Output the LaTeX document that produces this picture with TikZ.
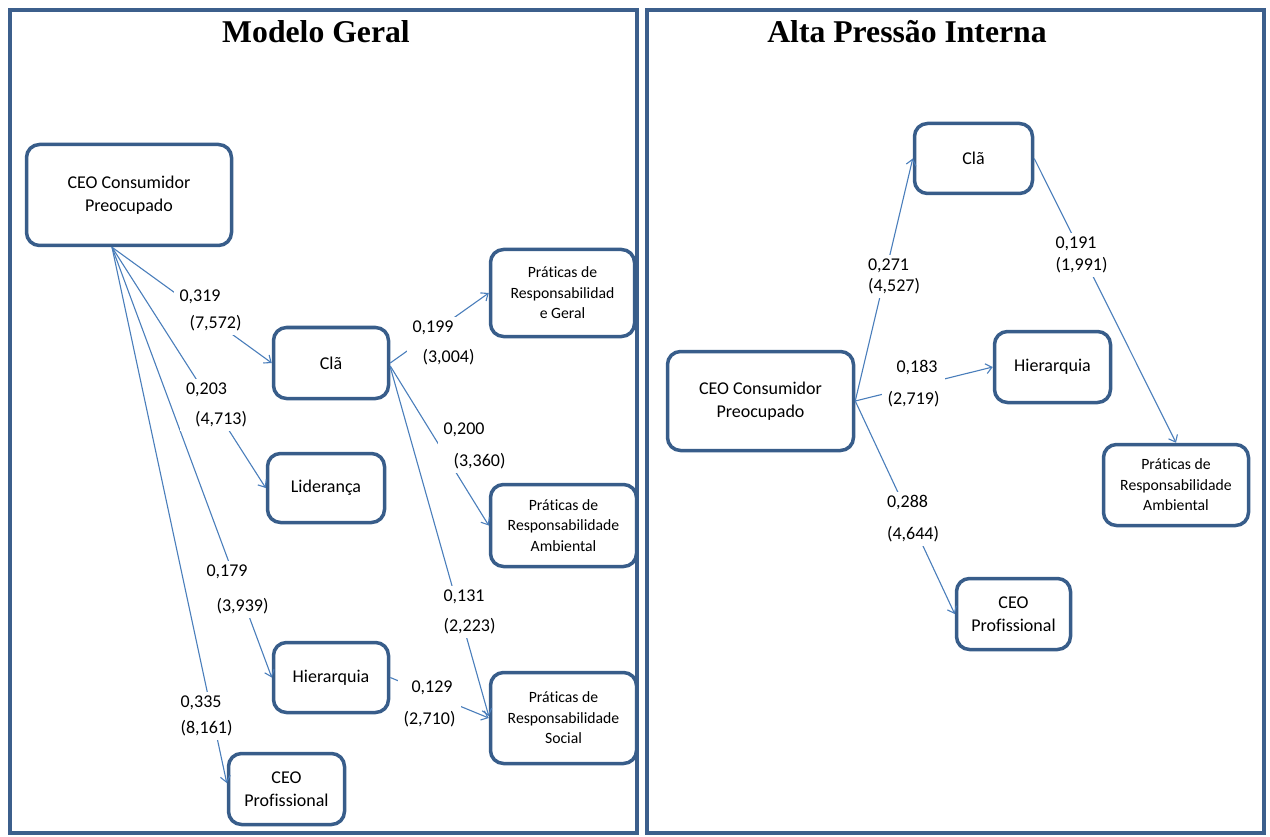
\documentclass[tikz,border=0pt]{standalone}
\usepackage{fontspec}
\setmainfont{Carlito}[Ligatures=NoCommon]
\newfontfamily\titlefont{Liberation Serif}
\usetikzlibrary{arrows.meta}
\definecolor{boxblue}{HTML}{385D8A}
\definecolor{linkblue}{HTML}{4A7EBB}
\definecolor{panelblue}{HTML}{3C5F8C}

\begin{document}
\begin{tikzpicture}[x=1pt,y=-1pt,
  box/.style={draw=boxblue, fill=white, line width=3.5pt, rounded corners=13pt,
    align=center, inner sep=0pt, font=\fontsize{18}{23}\selectfont},
  smallbox/.style={box, font=\fontsize{15.7}{20.5}\selectfont},
  link/.style={draw=linkblue, line width=1.1pt, -{Straight Barb[length=6pt,width=10pt]}},
  coef/.style={fill=white, inner xsep=6pt, inner ysep=4pt, align=left,
    font=\fontsize{18}{#1}\selectfont},
  panel/.style={draw=panelblue, line width=4pt},
  paneltitle/.style={font=\titlefont\bfseries\fontsize{31.7}{36}\selectfont, inner sep=0pt}]

\useasboundingbox (0,0) rectangle (1270,837);

% panel frames
\draw[panel] (10,10) rectangle (637,833);
\draw[panel] (647,10) rectangle (1264,833);

\node[paneltitle] (t1) at (316,32) {Modelo Geral};
\node[paneltitle] (t2) at (907,32) {Alta Pressão Interna};

% ---------- general model ----------
\node[box, minimum width=205pt, minimum height=101pt] (ceoL) at (129,195) {CEO Consumidor\\Preocupado};
\node[box, minimum width=115pt, minimum height=71pt] (claL) at (331,363) {Clã};
\node[box, minimum width=117pt, minimum height=69pt] (lidL) at (326,488) {Liderança};
\node[box, minimum width=115pt, minimum height=70pt] (hieL) at (331,677.5) {Hierarquia};
\node[box, minimum width=116pt, minimum height=71pt] (profL) at (286.5,789) {CEO\\Profissional};
\node[smallbox, minimum width=144pt, minimum height=87pt] (geralL) at (562.5,293) {Práticas de\\Responsabilidad\\e Geral};
\node[smallbox, minimum width=146pt, minimum height=82pt] (ambL) at (563.5,525.5) {Práticas de\\Responsabilidade\\Ambiental};
\node[smallbox, minimum width=146pt, minimum height=91pt] (socL) at (563.5,718) {Práticas de\\Responsabilidade\\Social};

\coordinate (ceoLo) at ([xshift=-17pt]ceoL.south);

% ---------- high internal pressure ----------
\node[box, minimum width=118pt, minimum height=70pt] (claR) at (973.5,158.5) {Clã};
\node[box, minimum width=186pt, minimum height=99pt] (ceoR) at (760.5,401) {CEO Consumidor\\Preocupado};
\node[box, minimum width=116pt, minimum height=71pt] (hieR) at (1052.5,367) {Hierarquia};
\node[smallbox, minimum width=145pt, minimum height=81pt] (ambR) at (1176,485) {Práticas de\\Responsabilidade\\Ambiental};
\node[box, minimum width=114pt, minimum height=71pt] (profR) at (1013.5,614) {CEO\\Profissional};

% connectors (drawn before the coefficient labels, which mask them)
\draw[link] (ceoLo) -- (claL.west);
\draw[link] (ceoLo) -- (lidL.west);
\draw[link] (ceoLo) -- (hieL.west);
\draw[link] (ceoLo) -- ([yshift=6pt]profL.west);
\draw[link] (claL.east) -- (geralL.west);
\draw[link] ([yshift=-3pt]claL.east) -- (ambL.west);
\draw[link] ([yshift=-4pt]claL.east) -- ([yshift=2pt]socL.west);
\draw[link] (hieL.east) -- (socL.west);

\draw[link] (ceoR.east) -- (claR.west);
\draw[link] (ceoR.east) -- (hieR.west);
\draw[link] (ceoR.east) -- (profR.west);
\draw[link] (claR.east) -- (ambR.north);

% path coefficients (t values in brackets)
\node[coef=27] (c1) at (210.5,310.5) {0,319\\\hspace*{10pt}(7,572)};
\node[coef=30] (c2) at (216.5,405) {0,203\\\hspace*{9pt}(4,713)};
\node[coef=35] (c3) at (237.5,589.5) {0,179\\\hspace*{10pt}(3,939)};
\node[coef=26] (c4) at (206.5,716) {0,335\\(8,161)};
\node[coef=30] (c5) at (443.5,343) {0,199\\\hspace*{10pt}(3,004)};
\node[coef=32] (c6) at (474.5,446) {0,200\\\hspace*{10pt}(3,360)};
\node[coef=30] (c7) at (469.5,612) {0,131\\(2,223)};
\node[coef=32] (c8) at (429.5,704) {\hspace*{8pt}0,129\\(2,710)};

\node[coef=21] (c9) at (894,276.5) {0,271\\(4,527)};
\node[coef=32] (c10) at (913.5,384) {\hspace*{9pt}0,183\\(2,719)};
\node[coef=32] (c11) at (913,519) {0,288\\(4,644)};
\node[coef=22] (c12) at (1081.5,255) {0,191\\(1,991)};

\end{tikzpicture}
\end{document}
